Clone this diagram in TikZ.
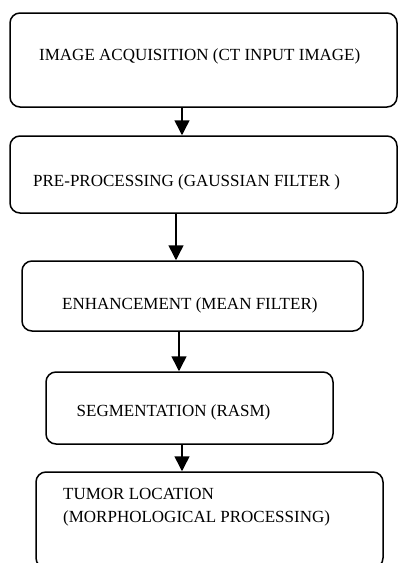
\documentclass[tikz,border=0pt]{standalone}
\usepackage{fontspec}
\setmainfont{Liberation Serif}
\usetikzlibrary{arrows.meta}

\begin{document}
\begin{tikzpicture}[x=1pt,y=-1pt,
    box/.style={draw,rounded corners=10pt,line width=1.5pt,inner sep=0pt},
    txt/.style={anchor=base west,inner sep=0pt,font=\fontsize{17}{23}\selectfont},
    flow/.style={line width=1.5pt,-{Triangle[length=15pt,width=15pt]}}]
      \useasboundingbox (0,0) rectangle (398,563) ;
      \clip (0,0) rectangle (398,563) ;
      % boxes
      \node[box,minimum width=387pt,minimum height=94pt] (IA) at (203.5,60) {} ;
      \node[box,minimum width=387pt,minimum height=77pt] (PP) at (203.5,174.5) {} ;
      \node[box,minimum width=341pt,minimum height=70pt] (EN) at (192.5,296) {} ;
      \node[box,minimum width=287pt,minimum height=72pt] (SG) at (189.5,408) {} ;
      \node[box,minimum width=347pt,minimum height=96pt] (TL) at (209.5,520) {} ;
      % texts
      \node[txt] (IAt) at (39,60) {IMAGE ACQUISITION (CT INPUT IMAGE)} ;
      \node[txt] (PPt) at (33,186.5) {PRE-PROCESSING (GAUSSIAN FILTER )} ;
      \node[txt] (ENt) at (62,309) {ENHANCEMENT (MEAN FILTER)} ;
      \node[txt] (SGt) at (76.5,416) {SEGMENTATION (RASM)} ;
      \node[txt,align=left] (TLt) at (63,522) {TUMOR LOCATION\\(MORPHOLOGICAL PROCESSING)} ;
      % arrows
      \coordinate (a1) at (182,0) ;
      \coordinate (a2) at (176,0) ;
      \coordinate (a3) at (179,0) ;
      \coordinate (a4) at (182,0) ;
      \draw[flow] (IA.south -| a1) -- (PP.north -| a1) ;
      \draw[flow] (PP.south -| a2) -- (EN.north -| a2) ;
      \draw[flow] (EN.south -| a3) -- (SG.north -| a3) ;
      \draw[flow] (SG.south -| a4) -- (TL.north -| a4) ;
    \end{tikzpicture}
\end{document}
